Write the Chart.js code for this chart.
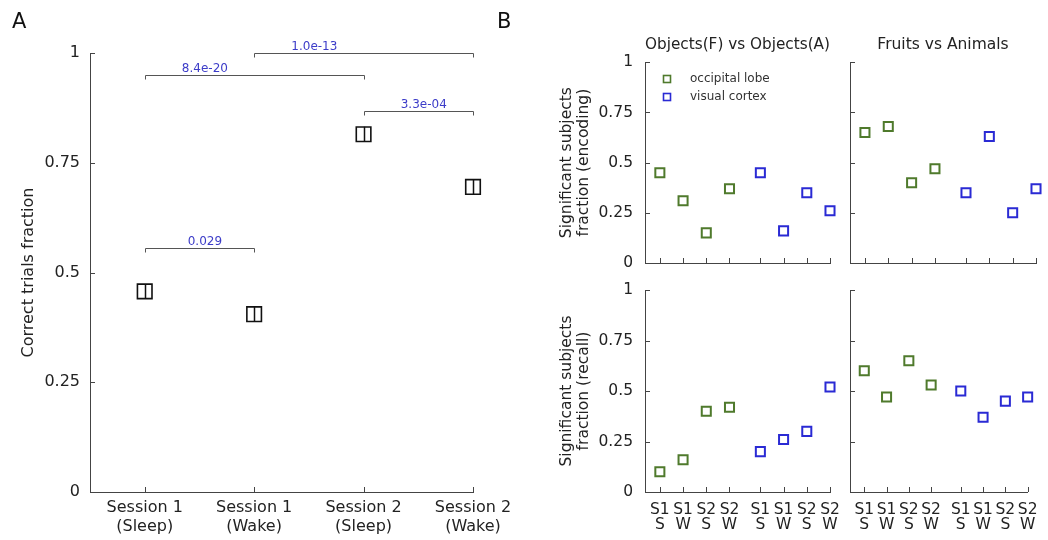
<!DOCTYPE html>
<html><head><meta charset="utf-8">
<script src="https://cdn.jsdelivr.net/npm/chart.js@4"></script>
<style>
html,body{margin:0;padding:0;background:#fff;width:1048px;height:540px;overflow:hidden;}
canvas{position:absolute;left:0;top:0;}
</style></head><body>
<canvas id="cA" width="1048" height="540"></canvas>
<canvas id="cB1" width="1048" height="540"></canvas>
<canvas id="cB2" width="1048" height="540"></canvas>
<canvas id="cB3" width="1048" height="540"></canvas>
<canvas id="cB4" width="1048" height="540"></canvas>
<script>
// ---------- data: panel A ----------
const sessionsA = [['Session 1','(Sleep)'],['Session 1','(Wake)'],['Session 2','(Sleep)'],['Session 2','(Wake)']];
const correctFrac = [0.457, 0.405, 0.815, 0.695];
const correctErr = [0.017, 0.017, 0.017, 0.017];
const yTicks = [0, 0.25, 0.5, 0.75, 1];
const pairFrom = [1, 1, 2, 3];
const pairTo = [2, 3, 4, 4];
const pairLevel = [0.556, 0.95, 1.0, 0.868];
const pairP = ['0.029', '8.4e-20', '1.0e-13', '3.3e-04'];
const yTitleA = 'Correct trials fraction';

// ---------- data: panel B ----------
const conditionsB = [['S1','S'],['S1','W'],['S2','S'],['S2','W']];
const regionNames = ['occipital lobe', 'visual cortex'];
const panelTitles = ['Objects(F) vs Objects(A)', 'Fruits vs Animals'];
const rowTitles = [['Significant subjects','fraction (encoding)'], ['Significant subjects','fraction (recall)']];
const objEncOcc = [0.45, 0.31, 0.15, 0.37];
const objEncVis = [0.45, 0.16, 0.35, 0.26];
const fruEncOcc = [0.65, 0.68, 0.40, 0.47];
const fruEncVis = [0.35, 0.63, 0.25, 0.37];
const objRecOcc = [0.10, 0.16, 0.40, 0.42];
const objRecVis = [0.20, 0.26, 0.30, 0.52];
const fruRecOcc = [0.60, 0.47, 0.65, 0.53];
const fruRecVis = [0.50, 0.37, 0.45, 0.47];

// ---------- style ----------
const FONT = "'DejaVu Sans', sans-serif";
const AXIS = '#444', TXT = '#222';
const GREEN = '#4f7a2c', BLUE = '#2a2ad4', PBLUE = '#3c3cc8';
Chart.defaults.font.family = FONT;
Chart.defaults.color = TXT;

const inTicks = {
  id: 'inTicks',
  afterDraw(chart) {
    const ctx = chart.ctx, a = chart.chartArea, x = chart.scales.x, y = chart.scales.y;
    ctx.save(); ctx.strokeStyle = AXIS; ctx.lineWidth = 1; ctx.beginPath();
    y.ticks.forEach(t => { const p = Math.round(y.getPixelForValue(t.value)) + 0.5; ctx.moveTo(a.left, p); ctx.lineTo(a.left + 5, p); });
    x.ticks.forEach(t => { const p = Math.round(x.getPixelForValue(t.value)) + 0.5; ctx.moveTo(p, a.bottom); ctx.lineTo(p, a.bottom - 5); });
    ctx.stroke(); ctx.restore();
  }
};

function yAxis(w, showLabels, pad, title, titlePad, size, lh) {
  return {
    type: 'linear', min: 0, max: 1,
    afterBuildTicks: s => { s.ticks = yTicks.map(v => ({ value: v })); },
    afterFit: s => { s.width = w; },
    grid: { display: false, drawTicks: false },
    border: { display: true, color: AXIS, width: 1 },
    ticks: { display: showLabels, padding: pad, color: TXT, font: { size: size }, callback: v => String(v) },
    title: title ? { display: true, text: title, color: TXT, font: { size: size, lineHeight: lh }, padding: { top: titlePad, bottom: 0 } } : { display: false }
  };
}
function xAxis(min, max, pos, labels, h, showLabels, pad, size, lh) {
  return {
    type: 'linear', min: min, max: max,
    afterBuildTicks: s => { s.ticks = pos.map(v => ({ value: v })); },
    afterFit: s => { s.height = h; },
    grid: { display: false, drawTicks: false },
    border: { display: true, color: AXIS, width: 1 },
    ticks: { display: showLabels, padding: pad, color: TXT, maxRotation: 0, autoSkip: false, font: { size: size, lineHeight: lh }, callback: (v, i) => labels[i] }
  };
}

// ---------- panel A ----------
const posA = sessionsA.map((s, i) => i + 1);
const panelA = {
  id: 'panelA',
  afterDatasetsDraw(chart) {
    const ctx = chart.ctx, x = chart.scales.x, y = chart.scales.y;
    ctx.save();
    ctx.strokeStyle = '#111'; ctx.lineWidth = 1.5; ctx.beginPath();
    correctFrac.forEach((v, i) => {
      const px = Math.round(x.getPixelForValue(i + 1)) + 0.5;
      ctx.moveTo(px, y.getPixelForValue(v - correctErr[i]));
      ctx.lineTo(px, y.getPixelForValue(v + correctErr[i]));
    });
    ctx.stroke();
    ctx.strokeStyle = '#555'; ctx.lineWidth = 1;
    ctx.font = '12px ' + FONT; ctx.fillStyle = PBLUE; ctx.textAlign = 'center'; ctx.textBaseline = 'alphabetic';
    pairP.forEach((p, i) => {
      const x1 = Math.round(x.getPixelForValue(pairFrom[i])) + 0.5, x2 = Math.round(x.getPixelForValue(pairTo[i])) + 0.5;
      const py = Math.round(y.getPixelForValue(pairLevel[i])) + 0.5;
      ctx.beginPath(); ctx.moveTo(x1, py + 4); ctx.lineTo(x1, py); ctx.lineTo(x2, py); ctx.lineTo(x2, py + 4); ctx.stroke();
      ctx.fillText(p, x.getPixelForValue(pairFrom[i] + 0.55), py - 4);
    });
    ctx.fillStyle = '#111'; ctx.textAlign = 'left'; ctx.font = '21px ' + FONT;
    ctx.fillText('A', 12, 28); ctx.fillText('B', 497, 28);
    ctx.restore();
  }
};
new Chart(document.getElementById('cA'), {
  type: 'scatter',
  data: { datasets: [{ data: correctFrac.map((v, i) => ({ x: i + 1, y: v })), pointStyle: 'rect', pointRadius: 10.3, borderColor: '#111', borderWidth: 1.6, backgroundColor: 'rgba(0,0,0,0)', clip: false }] },
  options: {
    responsive: false, animation: false, devicePixelRatio: 1,
    layout: { padding: { left: 0, top: 53, right: 1048 - 473, bottom: 0 } },
    plugins: { legend: { display: false }, tooltip: { enabled: false } },
    scales: {
      x: xAxis(0.5, 4, posA, sessionsA, 48, true, 6.5, 16, 1.2),
      y: yAxis(90, true, 10, yTitleA, 19, 16, 1.2)
    }
  },
  plugins: [inTicks, panelA]
});

// ---------- panel B ----------
const labelsB = conditionsB.concat(conditionsB);
const posB = labelsB.map((l, i) => i + 1 + (i >= 4 ? 0.33 : 0));
function seriesB(occ, vis) {
  return [
    { label: regionNames[0], data: occ.map((v, i) => ({ x: posB[i], y: v })), pointStyle: 'rect', pointRadius: 6.4, borderColor: GREEN, borderWidth: 2, backgroundColor: 'rgba(0,0,0,0)', clip: false },
    { label: regionNames[1], data: vis.map((v, i) => ({ x: posB[i + 4], y: v })), pointStyle: 'rect', pointRadius: 6.4, borderColor: BLUE, borderWidth: 2, backgroundColor: 'rgba(0,0,0,0)', clip: false }
  ];
}
const legendB = {
  id: 'legendB',
  afterDraw(chart) {
    const ctx = chart.ctx;
    ctx.save(); ctx.font = '12px ' + FONT; ctx.textBaseline = 'middle'; ctx.textAlign = 'left';
    chart.data.datasets.forEach((d, i) => {
      const cy = 79 + i * 18;
      ctx.strokeStyle = d.borderColor; ctx.lineWidth = 1.6;
      ctx.strokeRect(663.5, cy - 3.5, 7, 7);
      ctx.fillStyle = '#333'; ctx.fillText(d.label, 690, cy);
    });
    ctx.restore();
  }
};
function makeB(id, occ, vis, col, row) {
  const left = col === 0 ? 645 : 850, right = col === 0 ? 830 : 1036;
  const top = row === 0 ? 35.7 : 290, bottom = row === 0 ? 263 : 492;
  const xh = row === 0 ? 10 : 48;
  const yw = col === 0 ? 100 : 10;
  const plugins = [inTicks];
  if (col === 0 && row === 0) plugins.push(legendB);
  new Chart(document.getElementById(id), {
    type: 'scatter',
    data: { datasets: seriesB(occ, vis) },
    options: {
      responsive: false, animation: false, devicePixelRatio: 1,
      layout: { padding: { left: left - yw, top: top, right: 1048 - right, bottom: 540 - bottom - xh } },
      plugins: {
        legend: { display: false }, tooltip: { enabled: false },
        title: row === 0 ? { display: true, text: panelTitles[col], fullSize: false, color: TXT, font: { size: 15.5, weight: 'normal', lineHeight: 1.2 }, padding: { top: 0, bottom: 8 } } : { display: false }
      },
      scales: {
        x: xAxis(0.36, 8.33, posB, labelsB, xh, row === 1, 10.5, 15.5, 0.98),
        y: yAxis(yw, col === 0, 12, col === 0 ? rowTitles[row] : null, 13.5, 15.5, 1.1)
      }
    },
    plugins: plugins
  });
}
makeB('cB1', objEncOcc, objEncVis, 0, 0);
makeB('cB2', fruEncOcc, fruEncVis, 1, 0);
makeB('cB3', objRecOcc, objRecVis, 0, 1);
makeB('cB4', fruRecOcc, fruRecVis, 1, 1);
</script>
</body></html>
